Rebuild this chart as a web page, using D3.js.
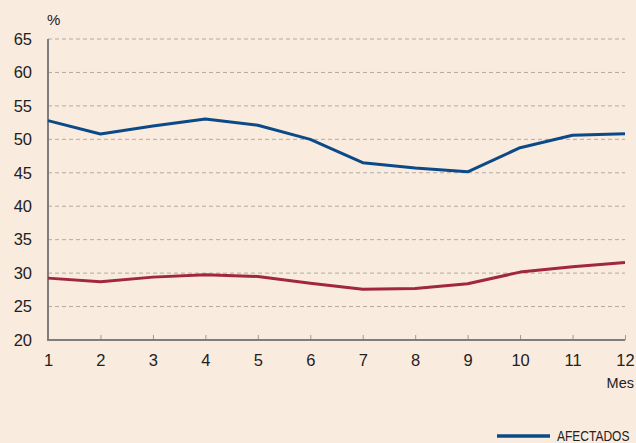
<!doctype html>
<html lang="es">
  <head>
    <meta charset="UTF-8"/>
    <title>Afectados por mes</title>
    <script src="https://cdnjs.cloudflare.com/ajax/libs/d3/7.8.5/d3.min.js"></script>
    <style>
      html, body { margin: 0; padding: 0; background: #faebdf; }
      svg { display: block; }
      text { font-family: "Liberation Sans", Arial, Helvetica, sans-serif; fill: #222; }
    </style>
  </head>
  <body>
    <div id="chart"></div>
    <script>
      // meses 1..12
      var months = [1, 2, 3, 4, 5, 6, 7, 8, 9, 10, 11, 12];
      var afectados = [52.8, 50.8, 52.0, 53.05, 52.1, 50.0, 46.5, 45.7, 45.15, 48.75, 50.6, 50.85];
      var otros = [29.25, 28.7, 29.4, 29.75, 29.5, 28.5, 27.6, 27.7, 28.4, 30.15, 30.95, 31.6];
      var yTicks = [20, 25, 30, 35, 40, 45, 50, 55, 60, 65];

      var width = 636, height = 443;
      var margin = {top: 39, right: 11, bottom: 103, left: 48};

      var svg = d3.select("#chart").append("svg")
          .attr("width", width)
          .attr("height", height);

      svg.append("rect").attr("width", width).attr("height", height).attr("fill", "#faebdf");

      var x = d3.scaleLinear().domain([1, 12]).range([margin.left, width - margin.right]);
      var y = d3.scaleLinear().domain([20, 65]).range([height - margin.bottom, margin.top]);

      // grid lines
      svg.append("g")
        .selectAll("line")
        .data(yTicks.filter(d => d > 20))
        .enter().append("line")
        .attr("x1", x(1)).attr("x2", x(12))
        .attr("y1", d => y(d)).attr("y2", d => y(d))
        .attr("stroke", "#b0aaa5")
        .attr("stroke-width", 1)
        .attr("stroke-dasharray", "4,3");

      // y axis labels
      var yAxis = d3.axisLeft(y).tickValues(yTicks).tickSize(0).tickPadding(16);
      var gy = svg.append("g").attr("transform", "translate(" + margin.left + ",0)").call(yAxis);
      gy.select(".domain").remove();
      gy.selectAll("text").attr("font-size", 16.5).attr("fill", "#222");

      // x axis with small inner ticks
      var xAxis = d3.axisBottom(x).tickValues(months).tickSizeInner(-5).tickSizeOuter(0).tickPadding(14);
      var gx = svg.append("g").attr("transform", "translate(0," + y(20) + ")").call(xAxis);
      gx.select(".domain").remove();
      gx.selectAll(".tick line").attr("stroke", "#999").attr("stroke-width", 1);
      gx.selectAll("text").attr("font-size", 16.5).attr("fill", "#222");

      // axis lines
      svg.append("line")
        .attr("x1", x(1)).attr("x2", x(1))
        .attr("y1", y(65)).attr("y2", y(20))
        .attr("stroke", "#7d7d7d").attr("stroke-width", 2);
      svg.append("line")
        .attr("x1", x(1) - 1).attr("x2", x(12))
        .attr("y1", y(20)).attr("y2", y(20))
        .attr("stroke", "#7d7d7d").attr("stroke-width", 2);

      var line = d3.line()
        .x((d, i) => x(months[i]))
        .y(d => y(d));

      svg.append("path")
        .datum(otros)
        .attr("d", line)
        .attr("fill", "none")
        .attr("stroke", "#a0273f")
        .attr("stroke-width", 3)
        .attr("stroke-linejoin", "round");

      svg.append("path")
        .datum(afectados)
        .attr("d", line)
        .attr("fill", "none")
        .attr("stroke", "#0b4a86")
        .attr("stroke-width", 3)
        .attr("stroke-linejoin", "round");

      // axis titles
      svg.append("text").attr("x", 47).attr("y", 25).attr("font-size", 15).attr("fill", "#444").text("%");
      svg.append("text").attr("x", 634).attr("y", 388).attr("text-anchor", "end")
        .attr("font-size", 14.5).attr("fill", "#444").text("Mes");

      // legend (condensed label via horizontal scale)
      svg.append("line")
        .attr("x1", 497).attr("x2", 550)
        .attr("y1", 436).attr("y2", 436)
        .attr("stroke", "#0b4a86").attr("stroke-width", 3.5);
      svg.append("text")
        .attr("transform", "translate(557,441) scale(0.8,1)")
        .attr("font-size", 15).attr("fill", "#444")
        .text("AFECTADOS");
    </script>
  </body>
</html>
